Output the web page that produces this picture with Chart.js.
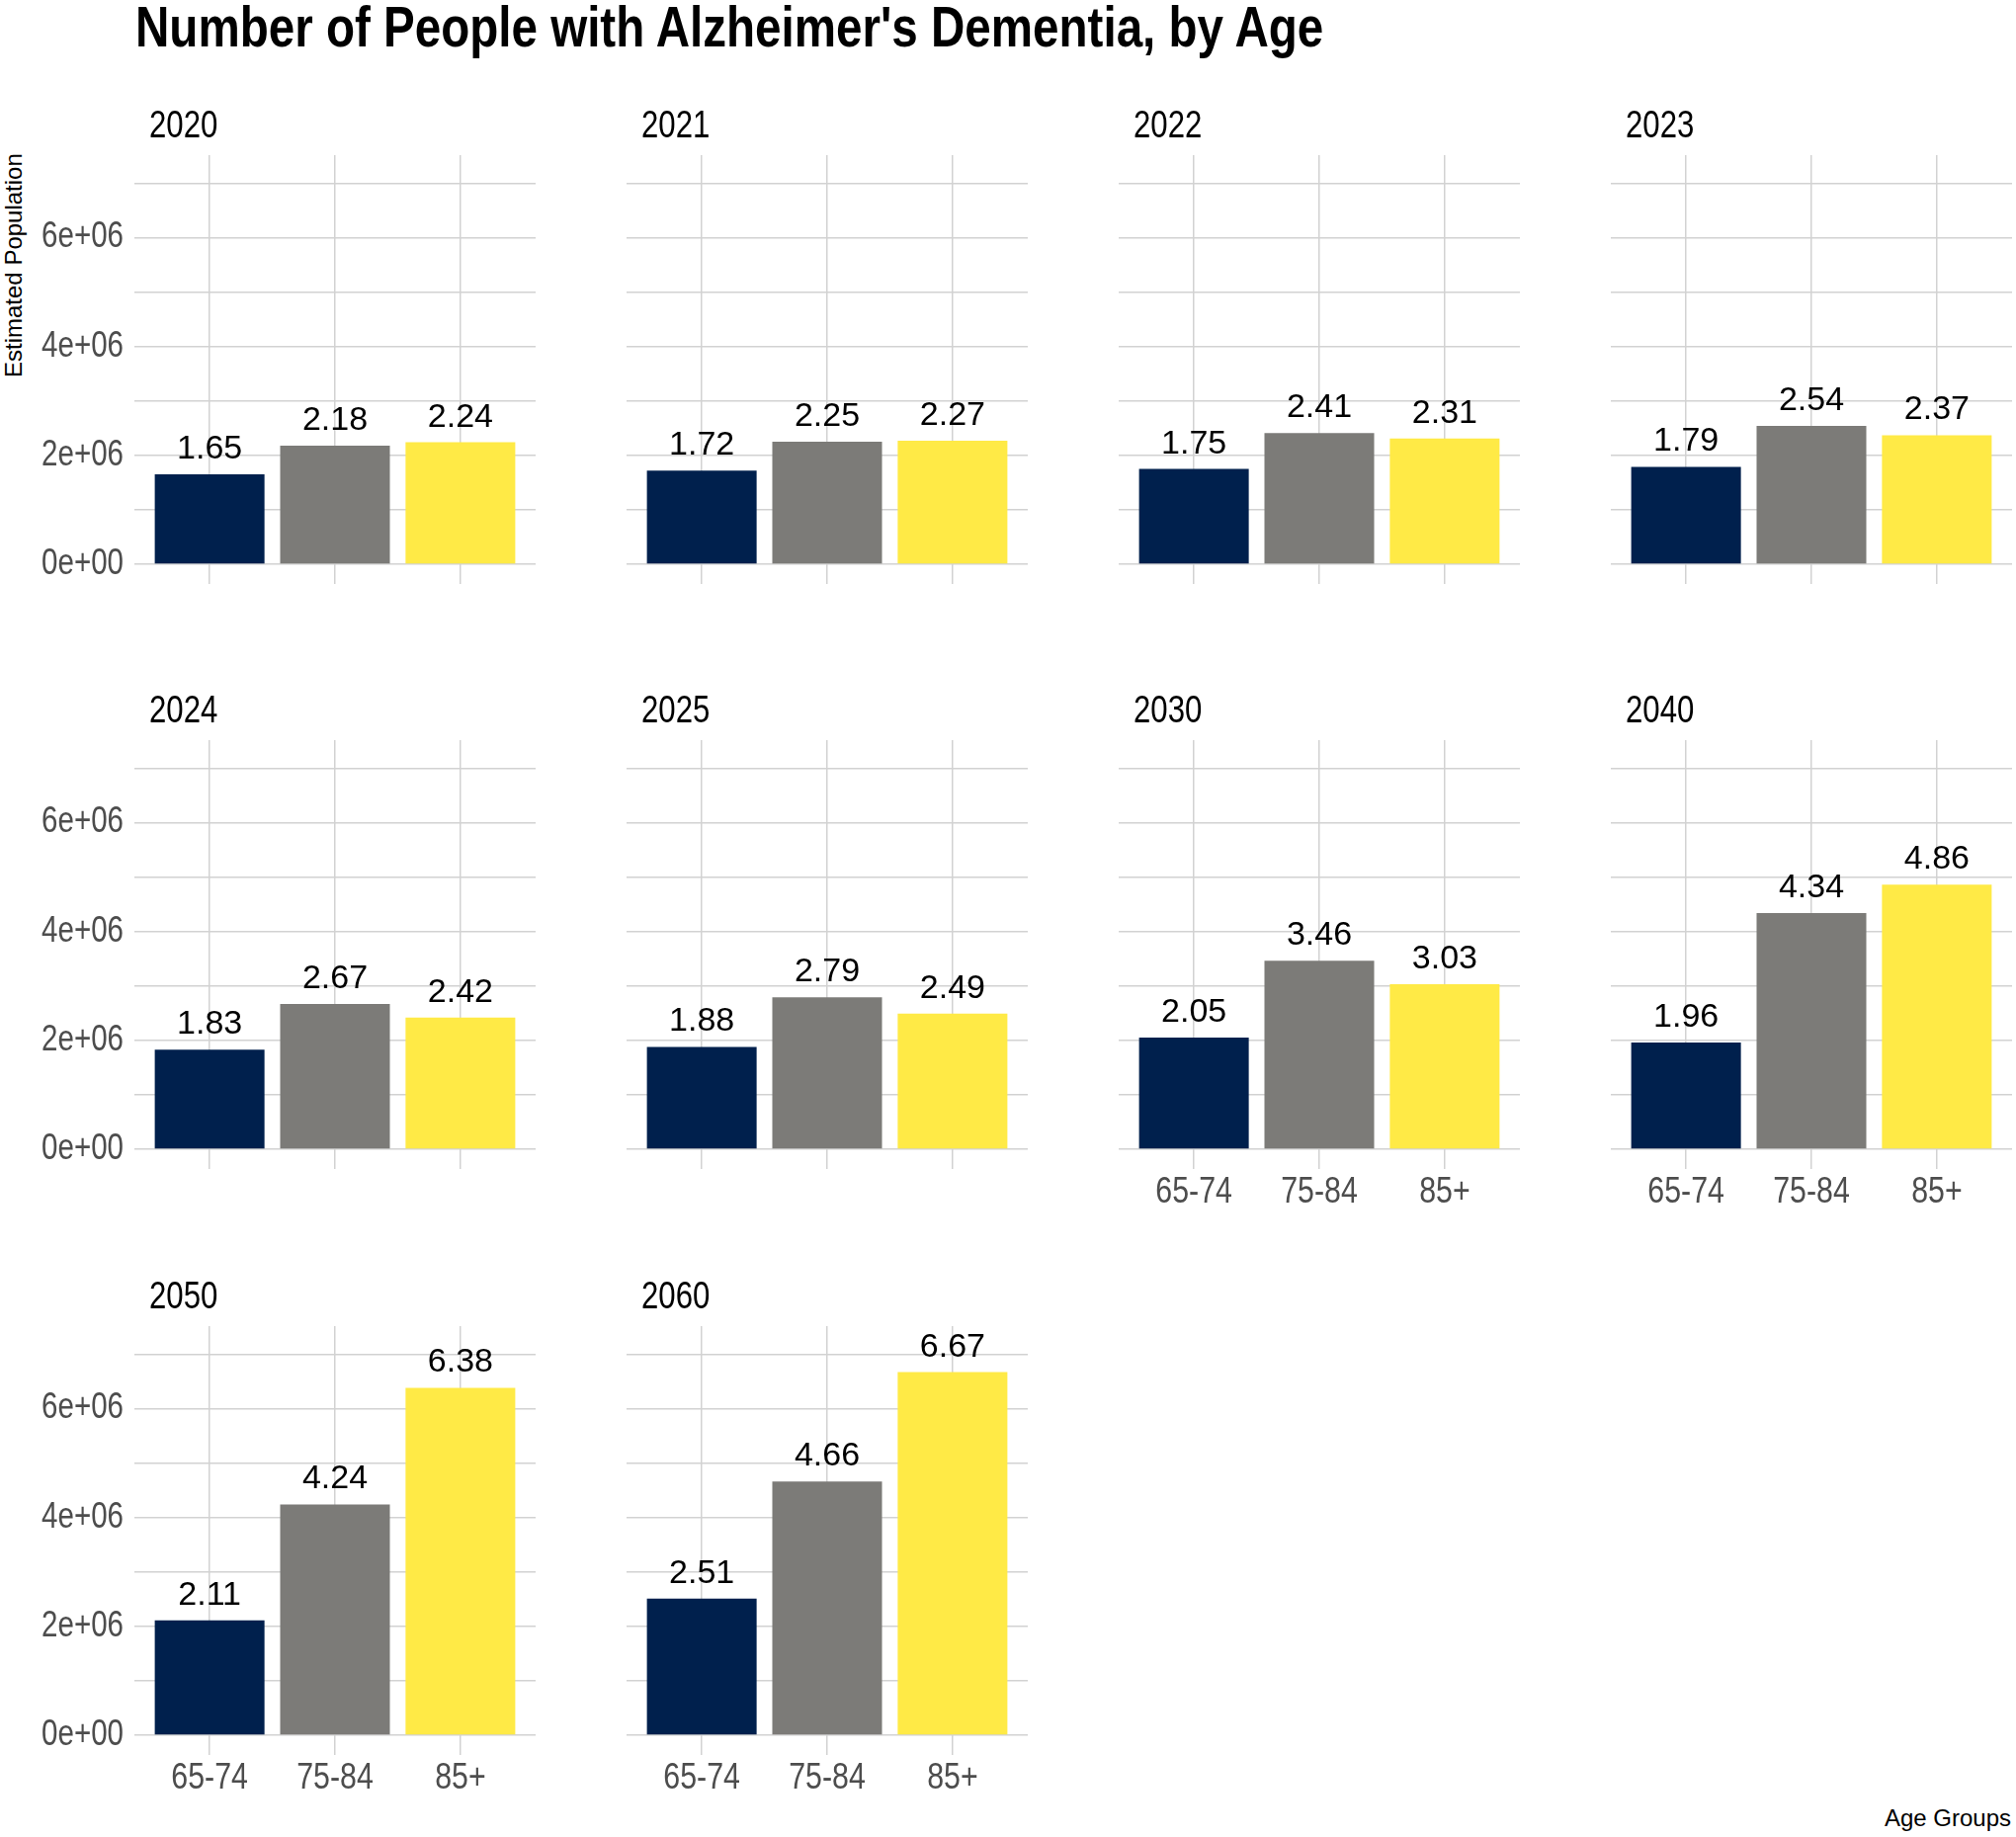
<!DOCTYPE html>
<html>
<head>
<meta charset="utf-8">
<title>Number of People with Alzheimer's Dementia, by Age</title>
<script src="https://cdn.jsdelivr.net/npm/chart.js@4.4.0/dist/chart.umd.min.js"></script>
<style>
  html, body { margin: 0; padding: 0; background: #fff; }
  body { width: 2040px; height: 1859px; position: relative; overflow: hidden; }
  canvas { position: absolute; }
  #title {
    position: absolute; left: 137px; top: -2px;
    font: bold 58px "Liberation Sans", Arial, sans-serif;
    line-height: 58px; color: #000; white-space: nowrap;
    transform-origin: 0 0; transform: scaleX(0.82);
  }
  #ytitle {
    position: absolute; left: 2px; top: 382px;
    font: 24px "Liberation Sans", Arial, sans-serif; line-height: 24px;
    color: #000; white-space: nowrap;
    transform-origin: 0 0; transform: rotate(-90deg);
  }
  #xtitle {
    position: absolute; right: 5px; top: 1828px;
    font: 24px "Liberation Sans", Arial, sans-serif; line-height: 24px;
    color: #000; white-space: nowrap;
  }
</style>
</head>
<body>
<div id="title">Number of People with Alzheimer's Dementia, by Age</div>
<div id="ytitle">Estimated Population</div>
<div id="xtitle">Age Groups</div>
<script>
// data (people)
var years = ['2020', '2021', '2022', '2023', '2024', '2025', '2030', '2040', '2050', '2060'];
var ageGroups = ['65-74', '75-84', '85+'];
var age65to74 = [1650000, 1720000, 1750000, 1790000, 1830000, 1880000, 2050000, 1960000, 2110000, 2510000];
var age75to84 = [2180000, 2250000, 2410000, 2540000, 2670000, 2790000, 3460000, 4340000, 4240000, 4660000];
var age85plus = [2240000, 2270000, 2310000, 2370000, 2420000, 2490000, 3030000, 4860000, 6380000, 6670000];
var yTicks = [0, 1000000, 2000000, 3000000, 4000000, 5000000, 6000000, 7000000];

var barColors = ['#00204D', '#7C7B78', '#FFEA46'];
var gridColor = '#d2d2d2';

// facet layout
var colLeft = [136, 634, 1132, 1630];
var rowZero = [571, 1163, 1756];
var PANEL_W = 406, ABOVE_ZERO = 414, BELOW_ZERO = 20;
var STRIP_H = 70, XAXIS_H = 50;
var Y_MAX = 7514000, Y_MIN = -363000;
var regular = '"Liberation Sans", Arial, sans-serif';
var NARROW = 0.82; // no narrow face installed, squeeze the regular one

function sciLabel(v) {
  if (v % 2000000 !== 0) return '';
  var exp = v === 0 ? 0 : Math.floor(Math.log10(v));
  var m = v === 0 ? 0 : Math.round(v / Math.pow(10, exp));
  return m + 'e+' + (exp < 10 ? '0' : '') + exp;
}

function drawNarrow(ctx, text, x, y) {
  ctx.save();
  ctx.translate(x, y);
  ctx.scale(NARROW, 1);
  ctx.fillText(text, 0, 0);
  ctx.restore();
}

var valueLabels = {
  id: 'valueLabels',
  afterDatasetsDraw: function(chart) {
    var ctx = chart.ctx;
    var meta = chart.getDatasetMeta(0);
    var pts = chart.data.datasets[0].data;
    ctx.save();
    ctx.font = '34px ' + regular;
    ctx.fillStyle = '#000';
    ctx.textAlign = 'center';
    ctx.textBaseline = 'alphabetic';
    meta.data.forEach(function(bar, j) {
      ctx.fillText((pts[j].y / 1000000).toFixed(2), bar.x, bar.y - 16);
    });
    ctx.restore();
  }
};

// strip title and tick labels, in the narrow face of the theme
var facetText = {
  id: 'facetText',
  afterDraw: function(chart, args, opts) {
    var ctx = chart.ctx, a = chart.chartArea;
    ctx.save();
    ctx.fillStyle = '#000';
    ctx.font = '38px ' + regular;
    ctx.textAlign = 'left';
    ctx.textBaseline = 'alphabetic';
    drawNarrow(ctx, opts.text, a.left + 15, a.top - 18);

    ctx.fillStyle = '#4d4d4d';
    ctx.textBaseline = 'middle';
    if (opts.showY) {
      var ys = chart.scales.y;
      ctx.font = '36px ' + regular;
      ctx.textAlign = 'right';
      ys.ticks.forEach(function(t) {
        var s = sciLabel(t.value);
        if (s) drawNarrow(ctx, s, a.left - 11, ys.getPixelForValue(t.value));
      });
    }
    if (opts.showX) {
      var xs = chart.scales.x;
      ctx.font = '37px ' + regular;
      ctx.textAlign = 'center';
      xs.ticks.forEach(function(t) {
        drawNarrow(ctx, ageGroups[t.value], xs.getPixelForValue(t.value), a.bottom + 24);
      });
    }
    ctx.restore();
  }
};

years.forEach(function(year, i) {
  var r = Math.floor(i / 4), c = i % 4;
  var yw = c === 0 ? 136 : 16;
  var canvas = document.createElement('canvas');
  canvas.width = yw + PANEL_W + 3;
  canvas.height = STRIP_H + ABOVE_ZERO + BELOW_ZERO + XAXIS_H;
  canvas.style.left = (colLeft[c] - yw) + 'px';
  canvas.style.top = (rowZero[r] - ABOVE_ZERO - STRIP_H) + 'px';
  canvas.style.width = canvas.width + 'px';
  canvas.style.height = canvas.height + 'px';
  document.body.appendChild(canvas);

  var vals = [age65to74[i], age75to84[i], age85plus[i]];

  new Chart(canvas.getContext('2d'), {
    type: 'bar',
    data: {
      datasets: [{
        data: vals.map(function(v, j) { return { x: j, y: v }; }),
        backgroundColor: barColors,
        borderWidth: 0,
        barPercentage: 0.875,
        categoryPercentage: 1.0
      }]
    },
    options: {
      responsive: false,
      animation: false,
      devicePixelRatio: 1,
      layout: { padding: { top: STRIP_H, right: 3, bottom: 0, left: 0 } },
      plugins: {
        legend: { display: false },
        tooltip: { enabled: false },
        facetText: { text: year, showY: c === 0, showX: i >= 6 }
      },
      scales: {
        x: {
          type: 'linear',
          min: -0.6,
          max: 2.6,
          offset: false,
          afterBuildTicks: function(scale) {
            scale.ticks = ageGroups.map(function(g, j) { return { value: j }; });
          },
          afterFit: function(scale) { scale.height = XAXIS_H; },
          grid: { color: gridColor, lineWidth: 1.5, drawTicks: false, offset: false },
          border: { display: false },
          ticks: { display: false }
        },
        y: {
          min: Y_MIN,
          max: Y_MAX,
          afterBuildTicks: function(scale) {
            scale.ticks = yTicks.map(function(v) { return { value: v }; });
          },
          afterFit: function(scale) { scale.width = yw; },
          grid: { color: gridColor, lineWidth: 1.5, drawTicks: false },
          border: { display: false },
          ticks: { display: false }
        }
      }
    },
    plugins: [valueLabels, facetText]
  });
});
</script>
</body>
</html>
